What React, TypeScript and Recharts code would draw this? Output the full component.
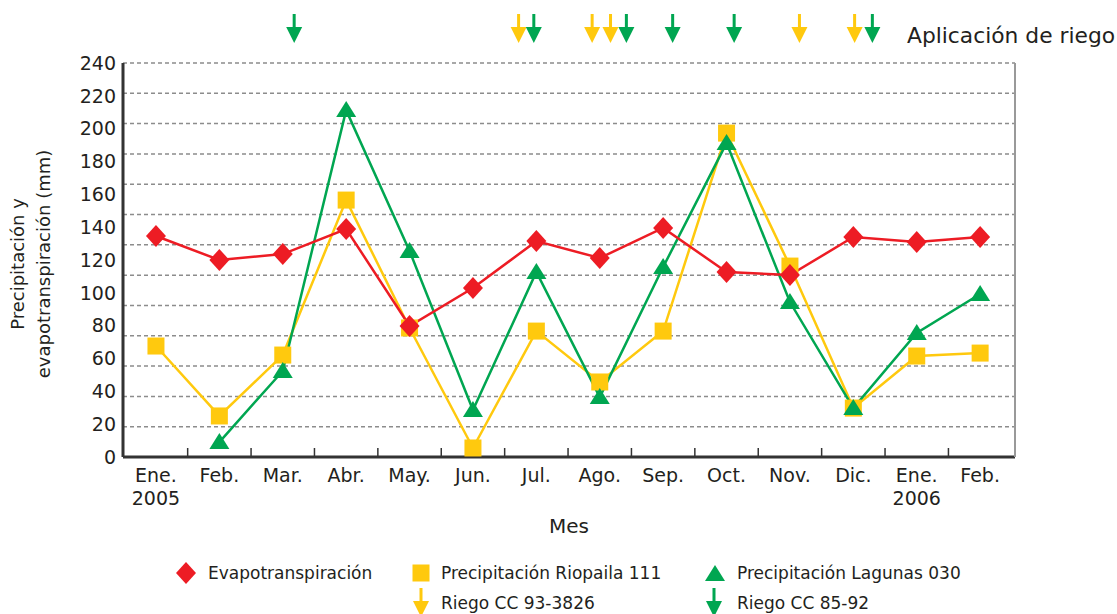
import React from 'react';
import {
  CartesianGrid,
  ComposedChart,
  Line,
  Scatter,
  XAxis,
  YAxis,
} from 'recharts';

const RED = '#ed1c24';
const YELLOW = '#ffc90e';
const GREEN = '#00a651';
const INK = '#231f20';
const FONT = '"DejaVu Sans", Verdana, sans-serif';

const MONTHS = ['Ene.', 'Feb.', 'Mar.', 'Abr.', 'May.', 'Jun.', 'Jul.', 'Ago.', 'Sep.', 'Oct.', 'Nov.', 'Dic.', 'Ene.', 'Feb.'];
const YEARS = ['2005', '', '', '', '', '', '', '', '', '', '', '', '2006', ''];

const EVAPO = [134.6, 120.0, 123.6, 138.9, 79.8, 102.9, 131.5, 121.2, 139.5, 112.7, 110.8, 134.0, 130.9, 134.0];
const RIOPAILA = [67.6, 25.0, 62.1, 156.5, 78.6, 5.5, 76.7, 45.7, 76.7, 197.3, 116.3, 29.8, 61.5, 63.3];
const LAGUNAS = [null, 9.1, 52.4, 211.3, 125.5, 28.6, 112.7, 36.5, 115.7, 191.2, 94.4, 29.8, 75.5, 99.3];

// riego dates, as fractional month index
const RIEGO_93_3826 = [5.72, 6.88, 7.17, 10.15, 11.02];
const RIEGO_85_92 = [2.18, 5.96, 7.42, 8.15, 9.12, 11.3];
const RIEGO_LEVEL = 240;

const Y_TICKS = [0, 20, 40, 60, 80, 100, 120, 140, 160, 180, 200, 220, 240];
// the original's dashed grid has 13 bands, not matching the 20 mm labels
const GRID_BANDS = 13;
const X_TICKS = [0, 0.5, 1, 1.5, 2, 2.5, 3, 3.5, 4, 4.5, 5, 5.5, 6, 6.5, 7, 7.5, 8, 8.5, 9, 9.5, 10, 10.5, 11, 11.5, 12, 12.5, 13];

const data = MONTHS.map((m, i) => ({
  x: i,
  et: EVAPO[i],
  rio: RIOPAILA[i],
  lag: LAGUNAS[i],
}));
const yellowRiego = RIEGO_93_3826.map((x) => ({ x, y: RIEGO_LEVEL }));
const greenRiego = RIEGO_85_92.map((x) => ({ x, y: RIEGO_LEVEL }));

const diamondPts = (cx: number, cy: number) =>
  `${cx},${cy - 11} ${cx + 10},${cy} ${cx},${cy + 11} ${cx - 10},${cy}`;
const trianglePts = (cx: number, cy: number) =>
  `${cx},${cy - 9} ${cx + 10},${cy + 7} ${cx - 10},${cy + 7}`;

function DiamondDot(p: any) {
  if (p.cx == null || p.cy == null) return <g key={p.key} />;
  return <polygon key={p.key} points={diamondPts(p.cx, p.cy)} fill={RED} />;
}
function SquareDot(p: any) {
  if (p.cx == null || p.cy == null) return <g key={p.key} />;
  return <rect key={p.key} x={p.cx - 8.5} y={p.cy - 8.5} width={17} height={17} fill={YELLOW} />;
}
function TriangleDot(p: any) {
  if (p.cx == null || p.cy == null || p.value == null) return <g key={p.key} />;
  return <polygon key={p.key} points={trianglePts(p.cx, p.cy)} fill={GREEN} />;
}

function ArrowGlyph({ cx, top, color }: { cx: number; top: number; color: string }) {
  return (
    <g>
      <rect x={cx - 1.5} y={top} width={3} height={15} fill={color} />
      <polygon points={`${cx - 8},${top + 13} ${cx + 8},${top + 13} ${cx},${top + 29}`} fill={color} />
    </g>
  );
}

const arrowShape = (color: string) => (p: any) => (
  <ArrowGlyph cx={p.cx} top={p.cy - 49} color={color} />
);

function XTick(p: any) {
  const { x, y, payload } = p;
  const v = payload.value;
  if (!Number.isInteger(v)) {
    return <line x1={x} x2={x} y1={y} y2={y - 9} stroke="#333" strokeWidth={1.5} />;
  }
  return (
    <text x={x} y={y + 25} textAnchor="middle" fill={INK} fontSize={19} fontFamily={FONT}>
      {MONTHS[v]}
      {YEARS[v] ? (
        <tspan x={x} dy={23}>
          {YEARS[v]}
        </tspan>
      ) : null}
    </text>
  );
}

function Overlay() {
  const text = { fill: INK, fontSize: 17, fontFamily: FONT };
  return (
    <svg
      width={1117}
      height={614}
      style={{ position: 'absolute', left: 0, top: 0, pointerEvents: 'none' }}
    >
      <g fill={INK} fontSize={18} fontFamily={FONT} textAnchor="middle">
        <text x={24} y={264} transform="rotate(-90 24 264)">
          Precipitación y
        </text>
        <text x={50} y={264} transform="rotate(-90 50 264)">
          evapotranspiración (mm)
        </text>
      </g>
      <text x={907} y={43} fill={INK} fontSize={21.8} fontFamily={FONT}>
        Aplicación de riego
      </text>
      <polygon points={diamondPts(186, 573)} fill={RED} />
      <text x={208} y={579} {...text}>Evapotranspiración</text>
      <rect x={412.5} y={564.5} width={17} height={17} fill={YELLOW} />
      <text x={441} y={579} {...text}>Precipitación Riopaila 111</text>
      <polygon points={trianglePts(715, 574)} fill={GREEN} />
      <text x={737} y={579} {...text}>Precipitación Lagunas 030</text>
      <ArrowGlyph cx={421} top={588} color={YELLOW} />
      <text x={441} y={609} {...text}>Riego CC 93-3826</text>
      <ArrowGlyph cx={714} top={588} color={GREEN} />
      <text x={737} y={609} {...text}>Riego CC 85-92</text>
    </svg>
  );
}

export default function App() {
  return (
    <div
      style={{
        position: 'absolute',
        left: 0,
        top: 0,
        width: 1117,
        height: 614,
        background: '#fff',
        fontFamily: FONT,
        overflow: 'hidden',
      }}
    >
      <ComposedChart
        width={1117}
        height={614}
        data={data}
        margin={{ top: 63, right: 101, bottom: 81, left: 0 }}
      >
        <CartesianGrid
          vertical={false}
          stroke="#8c8c8c"
          strokeWidth={1.5}
          strokeDasharray="4 3"
          horizontalCoordinatesGenerator={({ offset }: any) =>
            Array.from({ length: GRID_BANDS + 1 }, (_, i) => offset.top + (offset.height * i) / GRID_BANDS)
          }
        />
        <XAxis
          dataKey="x"
          type="number"
          domain={[-0.52, 13.55]}
          ticks={X_TICKS}
          interval={0}
          tick={<XTick />}
          tickLine={false}
          tickSize={0}
          tickMargin={0}
          height={76}
          axisLine={{ stroke: '#333', strokeWidth: 3 }}
          allowDataOverflow
          label={{
            value: 'Mes',
            position: 'insideBottom',
            offset: 0,
            fill: INK,
            fontSize: 20,
            fontFamily: FONT,
          }}
        />
        <YAxis
          yAxisId="main"
          type="number"
          domain={[0, 240]}
          ticks={Y_TICKS}
          interval={0}
          width={123}
          tickLine={false}
          tickSize={0}
          tickMargin={7}
          tick={{ fill: INK, fontSize: 19, fontFamily: FONT }}
          axisLine={{ stroke: '#333', strokeWidth: 3 }}
        />
        <YAxis
          yAxisId="edge"
          orientation="right"
          type="number"
          domain={[0, 1]}
          width={1}
          tick={false}
          tickLine={false}
          axisLine={{ stroke: '#999', strokeWidth: 2 }}
        />
        <Line
          yAxisId="main"
          dataKey="rio"
          stroke={YELLOW}
          strokeWidth={2.5}
          dot={SquareDot}
          activeDot={false}
          isAnimationActive={false}
        />
        <Line
          yAxisId="main"
          dataKey="lag"
          stroke={GREEN}
          strokeWidth={2.5}
          dot={TriangleDot}
          activeDot={false}
          isAnimationActive={false}
        />
        <Line
          yAxisId="main"
          dataKey="et"
          stroke={RED}
          strokeWidth={2.5}
          dot={DiamondDot}
          activeDot={false}
          isAnimationActive={false}
        />
        <Scatter
          yAxisId="main"
          data={yellowRiego}
          dataKey="y"
          shape={arrowShape(YELLOW)}
          isAnimationActive={false}
        />
        <Scatter
          yAxisId="main"
          data={greenRiego}
          dataKey="y"
          shape={arrowShape(GREEN)}
          isAnimationActive={false}
        />
      </ComposedChart>
      <Overlay />
    </div>
  );
}
